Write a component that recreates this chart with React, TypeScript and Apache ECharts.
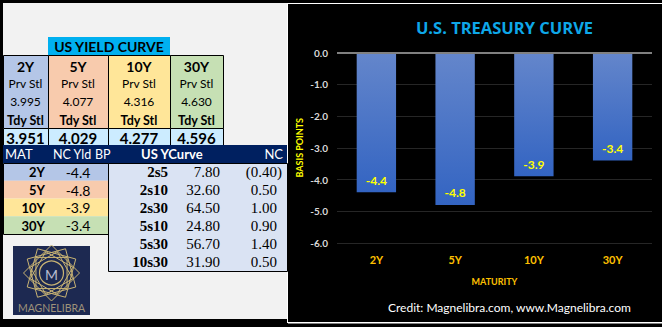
import React, { useEffect, useRef } from 'react';
import * as echarts from 'echarts';

// ---- data ----
const maturities = ['2Y', '5Y', '10Y', '30Y'];
const prevSettle = [3.995, 4.077, 4.316, 4.63];
const todaySettle = [3.951, 4.029, 4.277, 4.596];
const ncYieldBp = [-4.4, -4.8, -3.9, -3.4];
const spreadNames = ['2s5', '2s10', '2s30', '5s10', '5s30', '10s30'];
const spreadValues = [7.8, 32.6, 64.5, 24.8, 56.7, 31.9];
const spreadChanges = [-0.4, 0.5, 1.0, 0.9, 1.4, 0.5];
const yMin = -6;
const yMax = 0;
const yStep = 1;

const columnColors = ['#b4c6e7', '#f8cbad', '#ffe699', '#c6e0b4'];

type TxtOpt = { size?: number; bold?: boolean; fill?: string; font?: string; align?: string };
const txt = (text: string, x: number, y: number, o: TxtOpt = {}) => ({
  type: 'text',
  x,
  y,
  silent: true,
  z: 20,
  style: {
    text,
    fill: o.fill || '#000',
    fontSize: o.size || 12,
    fontWeight: o.bold ? 'bold' : 'normal',
    fontFamily: o.font || 'Lato',
    textAlign: o.align || 'left',
    align: o.align || 'left',
    textVerticalAlign: 'middle',
    verticalAlign: 'middle',
  },
});
const rect = (x: number, y: number, w: number, h: number, fill: string, stroke?: string) => ({
  type: 'rect',
  silent: true,
  z: 10,
  shape: { x, y, width: w, height: h },
  style: { fill, stroke: stroke || null, lineWidth: stroke ? 1 : 0 },
});

function buildGraphic() {
  const g: any[] = [];
  // panels
  g.push(rect(3, 3, 284, 316, '#f2f2f2'));
  g.push(rect(288, 3, 374, 1, '#ffffff'));
  g.push(rect(288, 322, 374, 1.5, '#ffffff'));
  g.push(rect(287, 3, 1, 320, '#ffffff'));

  // US YIELD CURVE header
  g.push(rect(48, 37, 122, 18, '#00b0f0'));
  g.push(txt('US YIELD CURVE', 109, 46.5, { size: 14, bold: true, align: 'center' }));

  const colX = [3, 48, 108, 170, 223];
  maturities.forEach((m, i) => {
    const x0 = colX[i];
    const w = colX[i + 1] - colX[i];
    const cx = x0 + w / 2;
    g.push(rect(x0 + 0.5, 55.5, w, 73, columnColors[i], '#000'));
    g.push(rect(x0 + 0.5, 128.5, w, 17, '#ccecff', '#000'));
    g.push(txt(m, cx, 66, { size: 14, bold: true, align: 'center' }));
    g.push(txt('Prv Stl', cx, 83, { size: 12, align: 'center' }));
    g.push(txt(prevSettle[i].toFixed(3), cx, 101, { size: 12, align: 'center' }));
    g.push(txt('Tdy Stl', cx, 120.5, { size: 12.5, bold: true, align: 'center' }));
    g.push(txt(todaySettle[i].toFixed(3), cx, 137.5, { size: 15, bold: true, align: 'center' }));
  });

  // navy header bar
  g.push(rect(3, 145, 284, 18, '#002060'));
  g.push(txt('MAT', 5, 154, { size: 13, fill: '#fff' }));
  g.push(txt('NC Yld', 53, 154, { size: 12.5, fill: '#fff' }));
  g.push(txt('BP', 95, 154, { size: 12.5, fill: '#fff' }));
  g.push(txt('US YCurve', 141, 154, { size: 13, bold: true, fill: '#fff' }));
  g.push(txt('NC', 283, 154, { size: 13, fill: '#fff', align: 'right' }));

  // MAT rows
  const rowH = 71 / 4;
  maturities.forEach((m, i) => {
    const y0 = 163 + i * rowH;
    g.push(rect(3, y0, 105, rowH, columnColors[i]));
    g.push(txt(m, 45, y0 + rowH / 2 + 0.5, { size: 13, bold: true, align: 'right' }));
    g.push(txt(ncYieldBp[i].toFixed(1), 78, y0 + rowH / 2 + 0.5, { size: 14, align: 'center' }));
  });
  g.push({ ...rect(3.5, 163.5, 105, 71, 'none', '#000'), z: 12 });

  // spread box
  g.push(rect(108.5, 163.5, 179, 108, '#dae3f3', '#000'));
  spreadNames.forEach((s, i) => {
    const y = 172 + i * 18;
    g.push(txt(s, 168, y, { size: 15, bold: true, font: 'Liberation Serif', align: 'right' }));
    g.push(txt(spreadValues[i].toFixed(2), 220, y, { size: 15, font: 'Liberation Serif', align: 'right' }));
    const c = spreadChanges[i];
    if (c < 0) {
      g.push(txt('(' + Math.abs(c).toFixed(2) + ')', 282, y, { size: 15, font: 'Liberation Serif', align: 'right' }));
    } else {
      g.push(txt(c.toFixed(2), 277, y, { size: 15, font: 'Liberation Serif', align: 'right' }));
    }
  });

  // logo
  g.push(rect(13, 246, 77, 69, '#1d2951'));
  const cx = 51.5;
  const cy = 273;
  const gold = '#c9b474';
  const squares: any[] = [];
  const addSquares = (r: number, off: number) => {
    for (let k = 0; k < 3; k++) {
      const pts: number[][] = [];
      for (let j = 0; j < 4; j++) {
        const a = ((off + k * 30 + j * 90) * Math.PI) / 180;
        pts.push([cx + r * Math.cos(a), cy + r * Math.sin(a)]);
      }
      squares.push({
        type: 'polygon',
        silent: true,
        z: 15,
        shape: { points: pts },
        style: { fill: 'none', stroke: gold, lineWidth: 1 },
      });
    }
  };
  addSquares(28, 0);
  addSquares(22, 15);
  g.push(...squares);
  g.push({ type: 'circle', silent: true, z: 15, shape: { cx, cy, r: 12 }, style: { fill: '#1d2951', stroke: gold, lineWidth: 1.2 } });
  g.push(txt('M', cx, cy + 1, { size: 14, fill: '#b9bccf', align: 'center' }));
  g.push({ ...txt('MAGNELIBRA', cx, 307.5, { size: 10.5, fill: '#9d927a', align: 'center' }), z: 21 });

  // credit
  g.push(txt('Credit: Magnelibra.com, www.Magnelibra.com', 388, 307, { size: 12, fill: '#ffffff' }));
  return g;
}

export default function App() {
  const ref = useRef<HTMLDivElement>(null);
  useEffect(() => {
    if (!ref.current) return;
    const chart = echarts.init(ref.current, undefined, { renderer: 'svg' });
    const barGradient = new echarts.graphic.LinearGradient(0, 0, 0, 1, [
      { offset: 0, color: '#6486cb' },
      { offset: 1, color: '#3364c2' },
    ]);
    chart.setOption({
      animation: false,
      backgroundColor: '#000000',
      title: {
        text: 'U.S. TREASURY CURVE',
        left: 499.5,
        top: 14,
        textAlign: 'center',
        textStyle: { color: '#0ea7e8', fontFamily: 'Open Sans', fontWeight: 'bold', fontSize: 16.5 },
      },
      grid: { left: 337, right: 10, top: 52.5, bottom: 84 },
      xAxis: {
        type: 'category',
        data: maturities,
        axisLine: { show: false, onZero: false },
        axisTick: { show: false },
        axisLabel: { color: '#ffc000', fontWeight: 'bold', fontSize: 11, fontFamily: 'Lato', margin: 11 },
        name: 'MATURITY',
        nameLocation: 'middle',
        nameGap: 34,
        nameTextStyle: { color: '#ffc000', fontWeight: 'bold', fontSize: 9, fontFamily: 'Lato' },
      },
      yAxis: {
        type: 'value',
        min: yMin,
        max: yMax,
        interval: yStep,
        axisLine: { show: false },
        axisTick: { show: false },
        axisLabel: {
          formatter: (v: number) => v.toFixed(1),
          color: '#d9d9d9',
          fontWeight: 'bold',
          fontSize: 10,
          fontFamily: 'Lato',
          margin: 9,
        },
        splitLine: { lineStyle: { color: '#262626', width: 1 } },
        name: 'BASIS POINTS',
        nameLocation: 'middle',
        nameRotate: 90,
        nameGap: 33,
        nameTextStyle: { color: '#ffff00', fontWeight: 'bold', fontSize: 9, fontFamily: 'Lato' },
      },
      series: [
        {
          type: 'bar',
          data: ncYieldBp,
          barWidth: '50%',
          itemStyle: { color: barGradient },
          label: {
            show: true,
            position: 'insideBottom',
            distance: 6,
            color: '#ffff00',
            fontWeight: 'bold',
            fontSize: 12,
            fontFamily: 'Lato',
            formatter: (p: any) => Number(p.value).toFixed(1),
          },
          markLine: {
            silent: true,
            symbol: 'none',
            label: { show: false },
            lineStyle: { color: '#808080', width: 2, type: 'solid' },
            data: [{ yAxis: 0 }],
          },
        },
      ],
      graphic: buildGraphic(),
    });
    return () => chart.dispose();
  }, []);
  return <div ref={ref} style={{ position: 'absolute', left: 0, top: 0, width: 662, height: 327 }} />;
}
